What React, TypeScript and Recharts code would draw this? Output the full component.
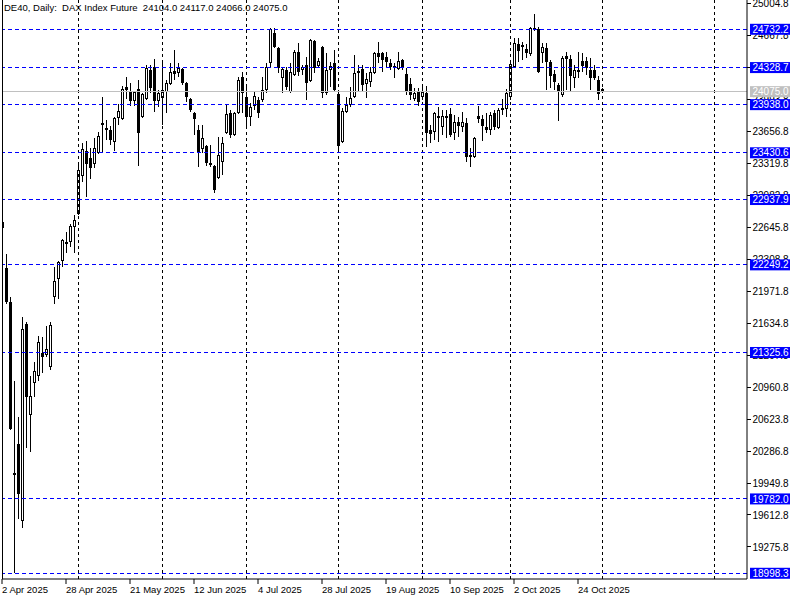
import { ComposedChart, Bar, XAxis, YAxis, ReferenceLine } from "recharts";

// daily DE40 candles, 2 Apr 2025 .. 3 Nov 2025
const opens = [
  22701, 22216, 21858, 20035, 20361, 19550, 21626, 20667, 21004, 21078,
  21320, 21299, 21173, 21911, 22100, 22290, 22490, 22490, 22648, 22785,
  23186, 23449, 23376, 23312, 23428, 23745, 23692, 23671, 23544, 23797,
  23787, 24124, 24071, 23976, 24103, 23808, 23998, 24303, 24335, 23976,
  24008, 24071, 24156, 24293, 24272, 24314, 24166, 23998, 23850, 23671,
  23471, 23502, 23323, 23291, 23165, 23334, 23639, 23850, 23618, 23850,
  24229, 24019, 23808, 23924, 23987, 23987, 24092, 24377, 24693, 24535,
  24219, 24303, 24071, 24251, 24493, 24303, 24356, 24187, 24609, 24345,
  24546, 24061, 24303, 24377, 24050, 23544, 23861, 23934, 24019, 24272,
  24314, 24156, 24177, 24272, 24482, 24482, 24440, 24377, 24345, 24314,
  24409, 24261, 24156, 23998, 24071, 24019, 24061, 23671, 23650, 23818,
  23702, 23818, 23839, 23639, 23755, 23702, 23745, 23407, 23386, 23818,
  23787, 23702, 23671, 23850, 23692, 23903, 23892, 24019, 24335, 24577,
  24567, 24525, 24472, 24725, 24735, 24482, 24535, 24388, 24261, 24145,
  24040, 24451, 24419, 24219, 24282, 24398, 24398, 24303, 24303, 24198,
  24104,
];
const highs = [
  22733, 22364, 21911, 21025, 20646, 21700, 21647, 21078, 21226, 21500,
  21489, 21605, 21647, 22227, 22290, 22522, 22596, 22680, 22775, 23312,
  23534, 23555, 23481, 23587, 23650, 24019, 23776, 23713, 23808, 23945,
  24135, 24229, 24166, 24082, 24198, 24061, 24356, 24356, 24419, 24092,
  24377, 24198, 24377, 24514, 24377, 24324, 24177, 24008, 23860, 23724,
  23724, 23513, 23513, 23300, 23597, 23597, 23934, 23882, 23861, 24229,
  24282, 24145, 23955, 24071, 24019, 24229, 24377, 24746, 24746, 24546,
  24335, 24335, 24377, 24514, 24588, 24356, 24440, 24625, 24619, 24430,
  24556, 24482, 24388, 24514, 24071, 23903, 24019, 24124, 24461, 24356,
  24356, 24272, 24335, 24493, 24598, 24493, 24493, 24419, 24377, 24493,
  24419, 24324, 24219, 24114, 24114, 24124, 24135, 23724, 23861, 23913,
  23882, 23882, 23903, 23829, 23808, 23861, 23797, 23481, 23595, 23924,
  23829, 23850, 23861, 23882, 23903, 23998, 24103, 24388, 24640, 24640,
  24598, 24577, 24756, 24893, 24756, 24588, 24588, 24409, 24303, 24166,
  24451, 24493, 24461, 24356, 24493, 24482, 24440, 24430, 24356, 24240,
  24117,
];
const lows = [
  22606, 21837, 20509, 18998, 19571, 19476, 20319, 20277, 20857, 21025,
  21110, 21278, 21141, 21837, 21890, 22227, 22374, 22438, 22374, 22775,
  23123, 22965, 23154, 23270, 23418, 23439, 23565, 23513, 23449, 23724,
  23776, 23998, 23924, 23924, 23291, 23797, 23987, 24061, 23861, 23913,
  23724, 23850, 24145, 24198, 24229, 24145, 23966, 23861, 23618, 23281,
  23428, 23291, 23281, 23007, 23155, 23196, 23629, 23587, 23608, 23839,
  23850, 23713, 23713, 23882, 23797, 23966, 24061, 24335, 24535, 24272,
  24061, 24092, 24065, 24240, 24240, 24251, 23987, 24177, 24272, 24335,
  24008, 24040, 24124, 24071, 23428, 23534, 23850, 23913, 24010, 24071,
  24071, 24008, 24124, 24261, 24377, 24282, 24335, 24303, 24219, 24303,
  24303, 24040, 23987, 23976, 23924, 23987, 23492, 23534, 23565, 23544,
  23618, 23587, 23597, 23565, 23597, 23650, 23334, 23281, 23376, 23745,
  23555, 23639, 23618, 23671, 23681, 23829, 23808, 23987, 24324, 24388,
  24409, 24430, 24451, 24714, 24272, 24377, 24092, 24114, 24092, 23766,
  24019, 24092, 24082, 24114, 24219, 24282, 24251, 24092, 24198, 23987,
  24066,
];
const closes = [
  22638, 21858, 20519, 20056, 19834, 21573, 20857, 20867, 21131, 21436,
  21278, 21363, 21616, 22079, 22280, 22511, 22469, 22659, 22722, 23249,
  23471, 23312, 23270, 23481, 23608, 23724, 23671, 23565, 23797, 23871,
  24103, 24092, 23976, 24071, 23639, 24050, 24324, 24114, 23976, 24061,
  24092, 24166, 24282, 24261, 24324, 24166, 24019, 23882, 23787, 23439,
  23587, 23323, 23302, 23038, 23407, 23534, 23839, 23618, 23850, 24198,
  24061, 23808, 23913, 24029, 23850, 24092, 24335, 24735, 24546, 24324,
  24314, 24124, 24282, 24493, 24282, 24335, 24166, 24619, 24324, 24398,
  24061, 24303, 24345, 24092, 23502, 23871, 23934, 24008, 24272, 24293,
  24145, 24208, 24282, 24482, 24440, 24409, 24388, 24335, 24335, 24398,
  24324, 24082, 24040, 24061, 23966, 24071, 23639, 23629, 23850, 23797,
  23818, 23797, 23618, 23755, 23713, 23755, 23386, 23386, 23587, 23787,
  23713, 23671, 23829, 23702, 23882, 23882, 24061, 24366, 24588, 24503,
  24546, 24482, 24746, 24746, 24282, 24546, 24388, 24240, 24177, 24071,
  24430, 24419, 24240, 24303, 24303, 24345, 24324, 24219, 24219, 24050,
  24075,
];

const dateTicks = [0, 16, 32, 48, 64, 80, 96, 112, 128, 144];
const dateLabels = [
  "2 Apr 2025", "28 Apr 2025", "21 May 2025", "12 Jun 2025", "4 Jul 2025",
  "28 Jul 2025", "19 Aug 2025", "10 Sep 2025", "2 Oct 2025", "24 Oct 2025",
];
const monthStarts = [19, 40, 61, 84, 105, 127, 150, 178];
const priceTicks = [
  25004.8, 24667.8, 24330.8, 23993.8, 23656.8, 23319.8, 22982.8, 22645.8, 22308.8,
  21971.8, 21634.8, 21297.8, 20960.8, 20623.8, 20286.8, 19949.8, 19612.8, 19275.8,
];
const levels = [24732.2, 24328.7, 23938.0, 23430.6, 22937.9, 22249.2, 21325.6, 19782.0, 18998.3];
const bidPrice = 24075.0;

const data = opens.map((o, i) => ({ i, o, h: highs[i], l: lows[i], c: closes[i] }));
const last = data[data.length - 1];

const FONT = "'Liberation Sans', Arial, sans-serif";

function Candle(props: any) {
  const { x, y, width, height, payload } = props;
  if (x == null || payload == null) return null;
  const cx = Math.round(x + width / 2);
  const top = Math.min(y, y + height);
  const bot = Math.max(y, y + height);
  const span = payload.h - payload.l;
  const k = span > 0 ? (bot - top) / span : 0;
  const py = (p: number) => Math.round(top + (payload.h - p) * k);
  const yh = py(payload.h);
  const yl = py(payload.l);
  const yo = py(payload.o);
  const yc = py(payload.c);
  const bt = Math.min(yo, yc);
  const bb = Math.max(yo, yc);
  const bull = payload.c > payload.o;
  return (
    <g>
      <rect x={cx} y={yh} width={1} height={Math.max(yl - yh, 1)} fill="#000" />
      {bull && bb - bt >= 2 ? (
        <rect x={cx - 0.5} y={bt + 0.5} width={2} height={bb - bt - 1} fill="#fff" stroke="#000" strokeWidth={1} />
      ) : (
        <rect x={cx - 1} y={bt} width={3} height={Math.max(bb - bt, 1)} fill="#000" />
      )}
    </g>
  );
}

function PriceTick(props: any) {
  const { x, y, payload } = props;
  const v = payload.value;
  const txt = v.toFixed(1);
  const isLevel = levels.includes(v);
  const isBid = v === bidPrice;
  if (isLevel || isBid) {
    return (
      <g>
        <rect x={x - 3} y={y - 5.5} width={40} height={11} fill={isLevel ? "#0000ff" : "#c0c0c0"} />
        <text x={x - 0.5} y={y} dy="0.36em" fill="#fff" fontSize={10} fontFamily={FONT}>
          {txt}
        </text>
      </g>
    );
  }
  return (
    <g>
      <line x1={x - 6} x2={x - 2} y1={y} y2={y} stroke="#000" shapeRendering="crispEdges" />
      <text x={x - 0.5} y={y} dy="0.36em" fill="#000" fontSize={10} fontFamily={FONT}>
        {txt}
      </text>
    </g>
  );
}

function DateTick(props: any) {
  const { x, y, payload } = props;
  const idx = dateTicks.indexOf(payload.value);
  return (
    <text x={x} y={y} dy="0.71em" fill="#000" fontSize={9.5} fontFamily={FONT}>
      {dateLabels[idx]}
    </text>
  );
}

export default function App() {
  return (
    <div style={{ position: "absolute", left: 0, top: 0, width: 800, height: 600, background: "#fff" }}>
      <ComposedChart width={800} height={600} data={data} margin={{ top: 0, right: 0, bottom: 0, left: 2 }}>
        <XAxis
          type="number"
          dataKey="i"
          domain={[0, 186.25]}
          allowDataOverflow
          ticks={dateTicks}
          interval={0}
          height={21}
          tickSize={5}
          tick={<DateTick />}
          axisLine={{ stroke: "#000" }}
          tickLine={{ stroke: "#000" }}
        />
        <YAxis
          orientation="right"
          width={53}
          domain={[18938, 25041]}
          allowDataOverflow
          ticks={[...priceTicks, bidPrice, ...levels]}
          interval={0}
          tickSize={4}
          tickLine={false}
          tick={<PriceTick />}
          axisLine={{ stroke: "#000" }}
        />
        {monthStarts.map((m) => (
          <ReferenceLine key={"m" + m} x={m} stroke="#000" strokeDasharray="3 3" shapeRendering="crispEdges" />
        ))}
        {levels.map((lv) => (
          <ReferenceLine key={"l" + lv} y={lv} stroke="#0000ff" strokeDasharray="4 3" shapeRendering="crispEdges" />
        ))}
        <ReferenceLine y={bidPrice} stroke="#c0c0c0" shapeRendering="crispEdges" />
        <ReferenceLine x={0} stroke="#000" shapeRendering="crispEdges" />
        <Bar
          dataKey={(d: any) => [d.l, d.h]}
          barSize={3}
          isAnimationActive={false}
          shape={(p: any) => <Candle {...p} />}
        />
      </ComposedChart>
      <div
        style={{
          position: "absolute",
          left: 4,
          top: 2,
          fontFamily: FONT,
          fontSize: 9.5,
          whiteSpace: "pre",
          color: "#000",
        }}
      >
        {`DE40, Daily:  DAX Index Future  ${last.o.toFixed(1)} ${last.h.toFixed(1)} ${last.l.toFixed(1)} ${last.c.toFixed(1)}`}
      </div>
    </div>
  );
}
